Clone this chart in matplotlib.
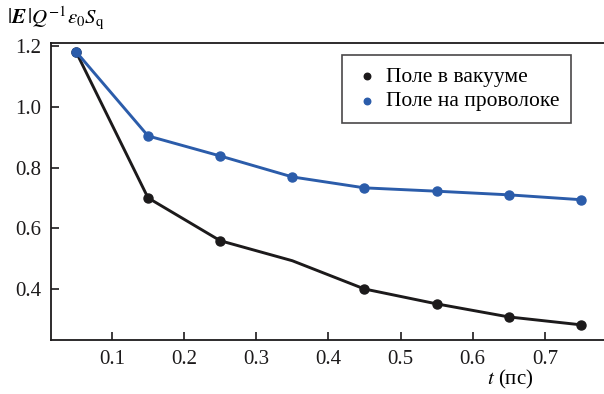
import matplotlib
matplotlib.use('Agg')
import matplotlib.pyplot as plt

# --- DATA ---
t_ps = [0.05, 0.15, 0.25, 0.35, 0.45, 0.55, 0.65, 0.75]
field_vacuum = [1.182, 0.70, 0.559, 0.493, 0.40, 0.351, 0.308, 0.282]
field_wire = [1.182, 0.904, 0.838, 0.769, 0.733, 0.722, 0.71, 0.694]
vacuum_marked = [0, 1, 2, 4, 5, 6, 7]
labels = ["Поле в вакууме", "Поле на проволоке"]
x_ticks = [0.1, 0.2, 0.3, 0.4, 0.5, 0.6, 0.7]
y_ticks = [0.4, 0.6, 0.8, 1.0, 1.2]

BLACK = "#1c1a1b"
BLUE = "#2b5caa"

plt.rcParams['font.family'] = ['Liberation Serif', 'DejaVu Serif']
plt.rcParams['mathtext.fontset'] = 'stix'
plt.rcParams['font.size'] = 15

fig = plt.figure(figsize=(6.04, 3.94), dpi=100)
ax = fig.add_axes([51 / 604, 1 - 340 / 394, 1 - 51 / 604, (340 - 43) / 394])

ax.plot(t_ps, field_vacuum, color=BLACK, lw=2.1, marker='o', ms=6.5,
        markevery=vacuum_marked, zorder=3)
ax.plot(t_ps, field_wire, color=BLUE, lw=2.1, marker='o', ms=6.5, zorder=4)

# legend: markers only
h1 = ax.scatter([], [], color=BLACK, s=22)
h2 = ax.scatter([], [], color=BLUE, s=22)
leg = ax.legend([h1, h2], labels, loc='upper left', bbox_to_anchor=(0.526, 0.96),
                frameon=True, fancybox=False, edgecolor=BLACK, fontsize=15.5,
                handletextpad=0.3, borderpad=0.55, labelspacing=0.2, handlelength=1.2,
                borderaxespad=0)
leg.get_frame().set_linewidth(1.2)

ax.set_xlim(0.0155, 0.782)
ax.set_ylim(0.232, 1.21)
ax.set_xticks(x_ticks)
ax.set_yticks(y_ticks)
ax.set_xticklabels([f"{v:.1f}" for v in x_ticks])
ax.set_yticklabels([f"{v:.1f}" for v in y_ticks])
ax.tick_params(direction='in', length=6, width=1.2, colors=BLACK, labelsize=15, pad=7)

ax.spines['right'].set_visible(False)
for s in ['left', 'bottom', 'top']:
    ax.spines[s].set_linewidth(1.3)
    ax.spines[s].set_color(BLACK)

ax.set_xlabel(r"$t$ (пс)", fontsize=15)
ax.xaxis.set_label_coords(0.83, -0.095)
ax.xaxis.label.set_va('top')

fig.text(0.012, 0.955, r"$|\mathbfit{E}\,|Q^{-1}\varepsilon_0 S_\mathrm{q}$",
         fontsize=15, va='center', ha='left')

fig.savefig("out.png", dpi=100)
